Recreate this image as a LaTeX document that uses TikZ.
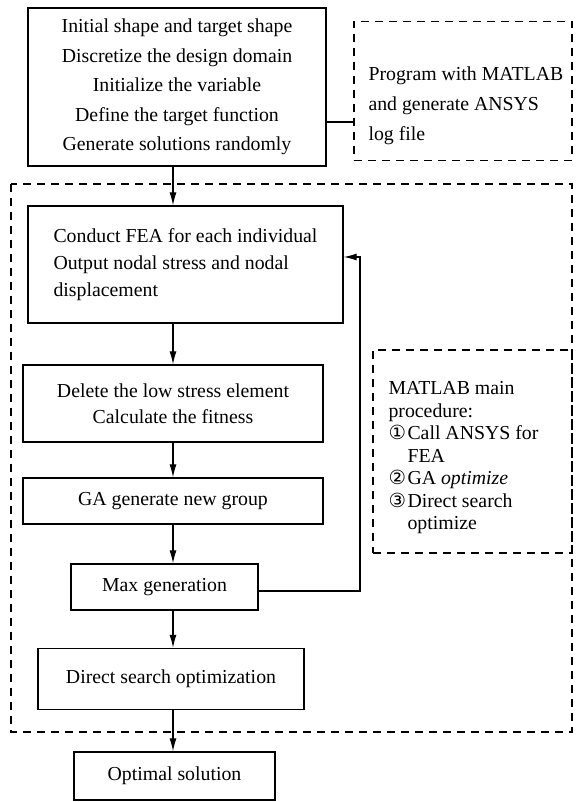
\documentclass[tikz,border=0pt]{standalone}
\usepackage{fontspec}
\setmainfont{Liberation Serif}
\newfontfamily\circfont{DejaVu Sans}
\usetikzlibrary{arrows.meta}

\tikzset{
  box/.style={draw, line width=1.3pt, inner sep=0pt},
  dashbox/.style={draw, line width=1.1pt, inner sep=0pt, dash pattern=on 8pt off 6pt},
  link/.style={line width=1.2pt},
  flow/.style={line width=1.2pt, -{Latex[length=13pt,width=7pt]}},
}
\newcommand{\cnum}[1]{\makebox[19pt][l]{\circfont\fontsize{19.5}{19.5}\selectfont #1}}

\begin{document}
\begin{tikzpicture}[x=1pt,y=-1pt, font=\fontsize{19.8}{29.5}\selectfont]
\useasboundingbox (0,0) rectangle (575,802);

% outer loop frame
\draw[dashbox] (11,184) rectangle (572,732);

\node[box, minimum width=298pt, minimum height=158pt, align=center] (top) at (177,87)
  {Initial shape and target shape\\Discretize the design domain\\Initialize the variable\\Define the target function\\Generate solutions randomly};
\node[dashbox, minimum width=218pt, minimum height=139pt] (prog) at (463,91) {};
\node[align=left, anchor=west, font=\fontsize{19.8}{30}\selectfont] (progtxt) at (365,106)
  {Program with MATLAB\\and generate ANSYS\\log file};

\node[box, minimum width=315pt, minimum height=117pt, align=left, font=\fontsize{19.8}{27}\selectfont] (fea) at (185.5,264.5)
  {Conduct FEA for each individual\\Output nodal stress and nodal\\displacement};
\node[box, minimum width=300pt, minimum height=77pt, align=center, font=\fontsize{19.8}{26}\selectfont] (del) at (173,403.5)
  {Delete the low stress element\\Calculate the fitness};
\node[box, minimum width=300pt, minimum height=46pt] (ga) at (173,501) {GA generate new group};
\node[box, minimum width=187pt, minimum height=46pt] (maxg) at (164.5,587) {Max generation};
\node[box, minimum width=266pt, minimum height=61pt] (ds) at (171,679) {Direct search optimization};
\node[box, minimum width=201pt, minimum height=48pt] (opt) at (174.5,776) {Optimal solution};

\node[dashbox, minimum width=199pt, minimum height=203pt] (mat) at (472.5,451.5) {};
\node[align=left, anchor=west, font=\fontsize{19.8}{22.5}\selectfont] (mattxt) at (385,458)
  {MATLAB main\\procedure:\\\cnum{①}Call ANSYS for\\\cnum{}FEA\\\cnum{②}GA \textit{optimize}\\\cnum{③}Direct search\\\cnum{}optimize};

% connectors
\coordinate (ax) at (173,0);
\coordinate (back) at (360,257);
\draw[link] ([yshift=-35pt]top.east) -- ([yshift=-35pt]top.east -| prog.west);
\draw[flow] (top.south -| ax) -- (fea.north -| ax);
\draw[flow] (fea.south -| ax) -- (del.north -| ax);
\draw[flow] (del.south -| ax) -- (ga.north -| ax);
\draw[flow] (ga.south -| ax) -- (maxg.north -| ax);
\draw[flow] (maxg.south -| ax) -- (ds.north -| ax);
\draw[flow] (ds.south -| ax) -- (opt.north -| ax);
\draw[flow] ([yshift=-4pt]maxg.east) -| (back) -- (back -| fea.east);
\end{tikzpicture}
\end{document}
